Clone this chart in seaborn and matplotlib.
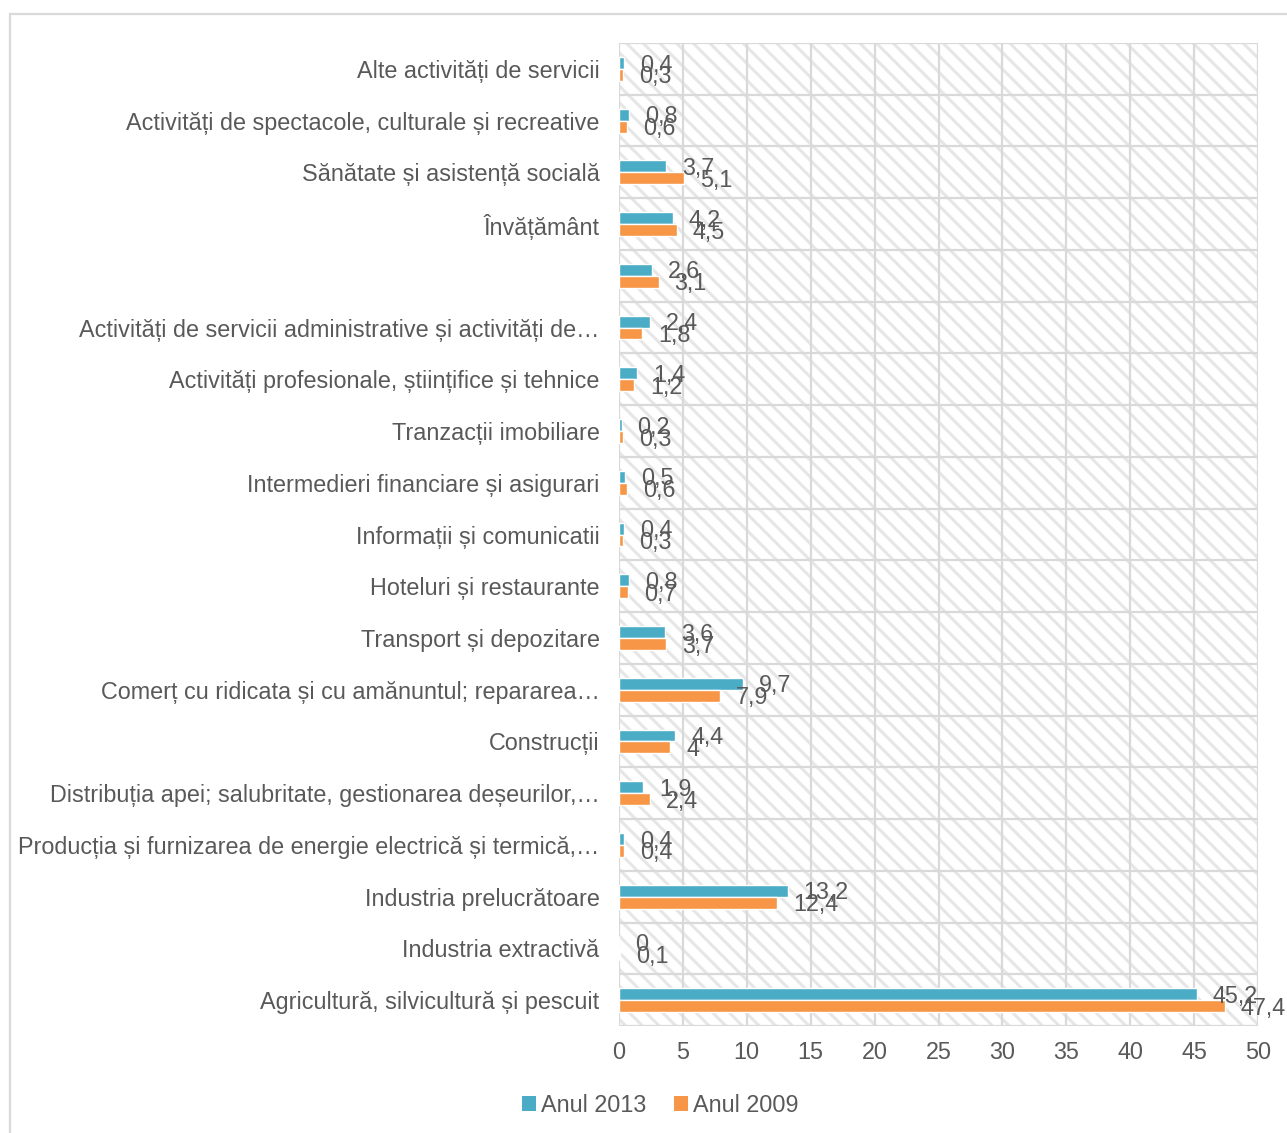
import matplotlib
matplotlib.use("Agg")
import matplotlib.pyplot as plt
from matplotlib.patches import Rectangle, Patch
import seaborn as sns
import pandas as pd

# Sectors, listed from the top of the chart downwards
categories = [
    "Alte activități de servicii",
    "Activități de spectacole, culturale și recreative",
    "Sănătate și asistență socială",
    "Învățământ",
    "",
    "Activități de servicii administrative și activități de…",
    "Activități profesionale, științifice și tehnice",
    "Tranzacții imobiliare",
    "Intermedieri financiare și asigurari",
    "Informații și comunicatii",
    "Hoteluri și restaurante",
    "Transport și depozitare",
    "Comerț cu ridicata și cu amănuntul; repararea…",
    "Construcții",
    "Distribuția apei; salubritate, gestionarea deșeurilor,…",
    "Producția și furnizarea de energie electrică și termică,…",
    "Industria prelucrătoare",
    "Industria extractivă",
    "Agricultură, silvicultură și pescuit",
]
values_2013 = [0.4, 0.8, 3.7, 4.2, 2.6, 2.4, 1.4, 0.2, 0.5, 0.4, 0.8, 3.6, 9.7, 4.4, 1.9, 0.4, 13.2, 0.0, 45.2]
values_2009 = [0.3, 0.6, 5.1, 4.5, 3.1, 1.8, 1.2, 0.3, 0.6, 0.3, 0.7, 3.7, 7.9, 4.0, 2.4, 0.4, 12.4, 0.1, 47.4]
series = ["Anul 2013", "Anul 2009"]
x_ticks = [0, 5, 10, 15, 20, 25, 30, 35, 40, 45, 50]

colors = {"Anul 2013": "#4BACC6", "Anul 2009": "#F79646"}
text_color = "#595959"
grid_color = "#D9D9D9"
fs = 16.8

df = pd.DataFrame({
    "Sector": categories * 2,
    "Valoare": values_2013 + values_2009,
    "Serie": [series[0]] * len(categories) + [series[1]] * len(categories),
})

sns.set_theme(style="white")
plt.rcParams["font.family"] = ["Liberation Sans", "DejaVu Sans"]
plt.rcParams["hatch.color"] = "#E6E6E6"
plt.rcParams["hatch.linewidth"] = 2.2

fig = plt.figure(figsize=(12.87, 11.33), dpi=100)
ax = fig.add_axes([619 / 1287, 1 - 1026 / 1133, (1258 - 619) / 1287, (1026 - 43) / 1133])

# Hatched plot background
ax.add_patch(Rectangle((0, 0), 1, 1, transform=ax.transAxes, facecolor="white",
                       edgecolor="#E6E6E6", hatch="\\\\", lw=0, zorder=0))

bar_width = 0.46
sns.barplot(data=df, y="Sector", x="Valoare", hue="Serie", order=categories,
            hue_order=series, palette=colors, orient="h", width=bar_width,
            saturation=1, legend=False, ax=ax, zorder=3)

ax.set_xlim(0, 50)
ax.set_ylim(len(categories) - 0.5, -0.5)
ax.set_xticks(x_ticks)
ax.set_xticklabels([str(t) for t in x_ticks])
ax.set_xlabel("")
ax.set_ylabel("")

# Grid: vertical at each tick, horizontal between sectors
ax.set_yticks([i - 0.5 for i in range(len(categories) + 1)], minor=True)
ax.grid(False)
ax.grid(True, which="major", axis="x", color=grid_color, lw=1.6, zorder=1)
ax.grid(True, which="minor", axis="y", color=grid_color, lw=1.6, zorder=1)
ax.set_axisbelow(False)
for sp in ax.spines.values():
    sp.set_visible(False)

ax.tick_params(axis="both", which="both", length=0)
ax.tick_params(axis="y", which="major", pad=14, labelsize=fs, labelcolor=text_color)
ax.tick_params(axis="x", which="major", pad=11, labelsize=fs, labelcolor=text_color)


def fmt(v):
    s = f"{v:.1f}".rstrip("0").rstrip(".")
    return s.replace(".", ",")


# Value labels at the end of each bar
for i, (a, b) in enumerate(zip(values_2013, values_2009)):
    for v, dy in ((a, -bar_width / 4), (b, bar_width / 4)):
        ax.annotate(fmt(v), xy=(v, i + dy), xytext=(11.5, -1.5), textcoords="offset points",
                    ha="left", va="center", fontsize=fs, color=text_color,
                    zorder=5, annotation_clip=False)

handles = [Patch(facecolor=colors[s], edgecolor="none") for s in series]
fig.legend(handles, series, loc="center", bbox_to_anchor=(660 / 1287, 1 - 1105 / 1133),
           ncol=2, frameon=False, fontsize=fs, labelcolor=text_color,
           handlelength=0.6, handleheight=0.6, handletextpad=0.2, columnspacing=1.2)

# Outer chart frame
fig.patches.append(Rectangle((10 / 1287, -0.02), 1.1, 1 - 14 / 1133 + 0.02,
                             transform=fig.transFigure, fill=False,
                             edgecolor=grid_color, lw=1.6, zorder=0))

fig.savefig("out.png", dpi=100)
